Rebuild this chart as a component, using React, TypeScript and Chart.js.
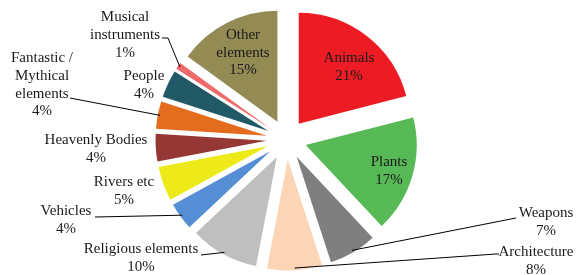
import { useEffect, useRef } from "react";
import { Chart, registerables } from "chart.js";

Chart.register(...registerables);

const categories = [
  "Animals",
  "Plants",
  "Weapons",
  "Architecture",
  "Religious elements",
  "Vehicles",
  "Rivers etc",
  "Heavenly Bodies",
  "Fantastic / Mythical elements",
  "People",
  "Musical instruments",
  "Other elements",
];

const shares = [21, 17, 7, 8, 10, 4, 5, 4, 4, 4, 1, 15];

const sliceColors = [
  "#ED1C24",
  "#58B957",
  "#7F7F7F",
  "#FBD5B5",
  "#BFBFBF",
  "#558ED5",
  "#EEE918",
  "#953735",
  "#E46C1E",
  "#215967",
  "#EF6B6B",
  "#948A54",
];

const labelLines = [
  ["Animals"],
  ["Plants"],
  ["Weapons"],
  ["Architecture"],
  ["Religious elements"],
  ["Vehicles"],
  ["Rivers etc"],
  ["Heavenly Bodies"],
  ["Fantastic /", "Mythical", "elements"],
  ["People"],
  ["Musical", "instruments"],
  ["Other", "elements"],
];

// label placement (centre of first text line) and leader-line bend points
const labelLayout: { x: number; y: number; leader: number[][] | null }[] = [
  { x: 349, y: 58, leader: null },
  { x: 389, y: 162, leader: null },
  { x: 546, y: 213, leader: [[516, 218]] },
  { x: 536, y: 252, leader: [[496, 254], [499, 254]] },
  { x: 141, y: 249, leader: [[201, 255]] },
  { x: 66, y: 211, leader: [[95, 217]] },
  { x: 124, y: 182, leader: null },
  { x: 96, y: 140, leader: null },
  { x: 42, y: 58.5, leader: [[70, 98]] },
  { x: 144, y: 76, leader: null },
  { x: 125, y: 17.5, leader: [[168, 38], [162, 38]] },
  { x: 243, y: 35, leader: null },
];

const EXPLODE = 20;
const LINE_H = 17.6;
const FONT = '15px "Liberation Serif", "Times New Roman", serif';

const explodePlugin = {
  id: "explodeSlices",
  beforeDatasetDraw(chart: any, args: any) {
    const ctx = chart.ctx;
    const arcs = args.meta.data;
    for (const arc of arcs) {
      const mid = (arc.startAngle + arc.endAngle) / 2;
      ctx.save();
      ctx.translate(Math.cos(mid) * EXPLODE, Math.sin(mid) * EXPLODE);
      arc.draw(ctx);
      ctx.restore();
    }
    return false;
  },
};

const labelPlugin = {
  id: "sliceLabels",
  afterDatasetsDraw(chart: any) {
    const ctx = chart.ctx;
    const meta = chart.getDatasetMeta(0);
    ctx.save();
    ctx.font = FONT;
    ctx.fillStyle = "#1a1a1a";
    ctx.strokeStyle = "#000";
    ctx.lineWidth = 1;
    ctx.textAlign = "center";
    ctx.textBaseline = "middle";
    meta.data.forEach((arc: any, i: number) => {
      const lay = labelLayout[i];
      if (lay.leader) {
        const mid = (arc.startAngle + arc.endAngle) / 2;
        const rr = EXPLODE + arc.outerRadius * 0.98;
        ctx.beginPath();
        ctx.moveTo(arc.x + Math.cos(mid) * rr, arc.y + Math.sin(mid) * rr);
        for (const p of lay.leader) ctx.lineTo(p[0], p[1]);
        ctx.stroke();
      }
      const lines = [...labelLines[i], shares[i] + "%"];
      lines.forEach((t, k) => {
        ctx.fillText(t, lay.x, lay.y + k * LINE_H);
      });
    });
    ctx.restore();
  },
};

export default function App() {
  const canvasRef = useRef<HTMLCanvasElement>(null);

  useEffect(() => {
    if (!canvasRef.current) return;
    const chart = new Chart(canvasRef.current, {
      type: "pie",
      data: {
        labels: categories,
        datasets: [
          {
            data: shares,
            backgroundColor: sliceColors,
            borderWidth: 0,
          },
        ],
      },
      options: {
        animation: false,
        responsive: true,
        maintainAspectRatio: false,
        events: [],
        radius: 111,
        layout: { padding: { left: 0, right: 3, top: 4, bottom: 0 } },
        plugins: {
          legend: { display: false },
          tooltip: { enabled: false },
        },
      } as any,
      plugins: [explodePlugin, labelPlugin],
    });
    return () => chart.destroy();
  }, []);

  return (
    <div
      style={{
        position: "fixed",
        left: 0,
        top: 0,
        width: 576,
        height: 275,
        background: "#fff",
      }}
    >
      <canvas ref={canvasRef} />
    </div>
  );
}
